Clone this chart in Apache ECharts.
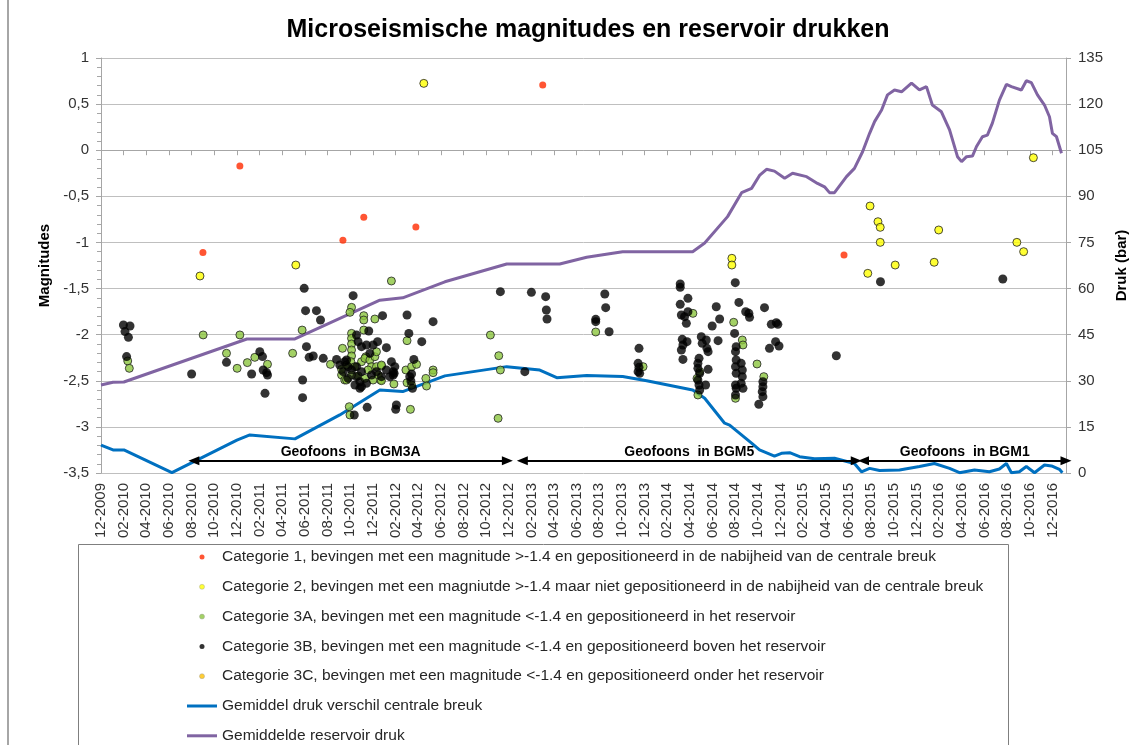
<!DOCTYPE html>
<html>
<head>
<meta charset="utf-8">
<script src="https://cdn.jsdelivr.net/npm/echarts@6/dist/echarts.min.js"></script>
<style>
  html, body { margin: 0; padding: 0; background: #fff; }
  #chart { width: 1132px; height: 745px; }
</style>
</head>
<body>
<div id="chart"></div>
<script>
// x = index of the two-month tick after 12-2009 (0 = 12-2009, 1 = 02-2010, ...)
// magnitudes on the left axis, pressure (bar) on the right axis
const monthLabels = [
  '12-2009', '02-2010', '04-2010', '06-2010', '08-2010', '10-2010',
  '12-2010', '02-2011', '04-2011', '06-2011', '08-2011', '10-2011',
  '12-2011', '02-2012', '04-2012', '06-2012', '08-2012', '10-2012',
  '12-2012', '02-2013', '04-2013', '06-2013', '08-2013', '10-2013',
  '12-2013', '02-2014', '04-2014', '06-2014', '08-2014', '10-2014',
  '12-2014', '02-2015', '04-2015', '06-2015', '08-2015', '10-2015',
  '12-2015', '02-2016', '04-2016', '06-2016', '08-2016', '10-2016',
  '12-2016'
];

const names = [
  'Categorie 1, bevingen met een magnitude >-1.4 en gepositioneerd in de nabijheid van de centrale breuk',
  'Categorie 2, bevingen met een magniutde >-1.4 maar niet gepositioneerd in de nabijheid van de centrale breuk',
  'Categorie 3A, bevingen met een magnitude <-1.4 en gepositioneerd in het reservoir',
  'Categorie 3B, bevingen met een magnitude <-1.4 en gepositioneerd boven het reservoir',
  'Categorie 3C, bevingen met een magnitude <-1.4 en gepositioneerd onder het reservoir',
  'Gemiddel druk verschil centrale breuk',
  'Gemiddelde reservoir druk'
];

const cat1 = [[4.50,-1.11],[6.13,-0.171],[10.68,-0.977],[11.60,-0.728],[13.90,-0.833],[19.50,0.707],[32.80,-1.136]];

const cat2 = [[4.37,-1.364],[8.60,-1.245],[14.25,0.725],[27.85,-1.172],[27.85,-1.245],[33.95,-0.605],[34.30,-0.775],
  [34.40,-0.836],[34.40,-0.999],[33.85,-1.335],[35.06,-1.245],[36.78,-1.215],[36.98,-0.865],[40.43,-0.999],
  [40.73,-1.10],[41.16,-0.081]];

const cat3A = [[1.18,-2.285],[1.25,-2.365],[4.51,-2.003],[6.13,-2.003],[5.54,-2.202],[6.01,-2.365],[6.46,-2.303],
  [6.79,-2.246],[7.35,-2.321],[8.46,-2.202],
  [12.82,-1.418],[8.88,-1.950],[11.06,-1.704],[10.99,-1.758],[11.60,-1.794],[11.60,-1.841],[12.09,-1.830],
  [11.60,-1.950],[11.06,-1.986],[11.06,-2.040],[11.06,-2.101],[11.06,-2.166],[11.06,-2.231],[10.66,-2.148],
  [10.13,-2.322],[10.62,-2.437],[10.76,-2.492],[13.51,-2.065],[13.46,-2.383],[13.71,-2.347],[13.93,-2.322],
  [14.66,-2.383],[14.66,-2.412],[14.34,-2.474],[14.37,-2.557],[13.51,-2.521],[12.93,-2.535],[13.66,-2.810],
  [10.96,-2.781],[10.99,-2.871],[12.34,-2.492],[11.69,-2.239],
  [10.62,-2.376],[10.84,-2.329],[11.03,-2.293],[11.21,-2.347],[11.50,-2.293],[11.65,-2.257],[11.87,-2.275],
  [12.09,-2.239],[11.94,-2.347],[11.79,-2.383],[12.16,-2.347],[12.38,-2.340],[11.35,-2.448],[11.65,-2.474],
  [12.01,-2.492],[12.24,-2.437],[11.06,-2.437],[10.84,-2.492],[12.16,-2.185],
  [13.71,-2.546],[12.38,-2.329],[12.38,-2.499],
  [17.19,-2.004],[17.56,-2.228],[17.63,-2.383],[17.53,-2.907],
  [21.84,-1.971],[26.13,-1.769],[26.43,-2.401],[26.31,-2.474],[26.35,-2.654],[23.93,-2.347],[27.93,-1.866],
  [28.31,-2.058],[28.34,-2.112],[28.01,-2.690],[28.96,-2.318],[29.26,-2.455]];

const cat3B = [[0.99,-1.895],[1.28,-1.906],[1.06,-1.967],[1.21,-2.029],[1.13,-2.238],[4.00,-2.426],[5.54,-2.300],
  [6.65,-2.426],[7.01,-2.184],[7.13,-2.238],[7.16,-2.383],[7.31,-2.412],[7.35,-2.437],[7.24,-2.636],
  [8.97,-1.498],[11.13,-1.577],[9.03,-1.740],[9.51,-1.740],[9.69,-1.841],[12.43,-1.794],[13.51,-1.787],
  [14.66,-1.859],[11.28,-2.004],[11.82,-1.960],[12.21,-2.076],[12.60,-2.141],[13.59,-1.986],[14.16,-2.076],
  [9.07,-2.130],[9.19,-2.246],[9.37,-2.231],[9.81,-2.257],[8.90,-2.492],[8.90,-2.683],[12.82,-2.293],
  [12.97,-2.347],[12.90,-2.437],[13.81,-2.268],[13.71,-2.427],[13.04,-2.763],[13.01,-2.810],[11.75,-2.788],
  [11.18,-2.871],[11.43,-2.582],
  [10.40,-2.268],[10.76,-2.293],[10.54,-2.329],[10.91,-2.347],[10.69,-2.401],[11.06,-2.383],[11.28,-2.347],
  [11.50,-2.401],[11.28,-2.455],[11.43,-2.510],[11.72,-2.528],[11.50,-2.564],[11.21,-2.546],[10.91,-2.474],
  [11.94,-2.437],[12.16,-2.401],[12.38,-2.455],[12.75,-2.455],[12.90,-2.401],[12.60,-2.383],[11.87,-2.203],
  [11.50,-2.130],[11.35,-2.076],[11.72,-2.112],[12.01,-2.112],[10.84,-2.275],
  [13.63,-2.455],[13.68,-2.502],[13.75,-2.582],[12.94,-2.419],
  [17.63,-1.534],[19.00,-1.541],[19.63,-1.588],[19.66,-1.733],[19.69,-1.830],[18.71,-2.401],
  [22.24,-1.559],[22.28,-1.707],[21.84,-1.834],[21.84,-1.859],[22.43,-1.968],[23.75,-2.148],[23.71,-2.311],
  [23.75,-2.354],[23.71,-2.401],[23.78,-2.419],[25.57,-1.451],[25.57,-1.487],[25.91,-1.606],[25.57,-1.671],
  [25.62,-1.787],[25.76,-1.805],[25.84,-1.877],[25.91,-1.751],[25.66,-2.051],[25.69,-2.112],[25.62,-2.166],
  [25.69,-2.268],[25.87,-2.076],[26.50,-2.022],[26.54,-2.094],[26.72,-2.058],[26.75,-2.148],[26.80,-2.184],
  [26.40,-2.257],[26.35,-2.311],[26.35,-2.365],[26.43,-2.419],[26.35,-2.492],[26.40,-2.546],[26.43,-2.600],
  [26.80,-2.376],[26.69,-2.546],[27.16,-1.697],[27.31,-1.830],[26.98,-1.906],[27.24,-2.065],[28.00,-1.436],
  [28.16,-1.650],[27.97,-1.986],[28.04,-2.130],[28.01,-2.184],[28.04,-2.275],[28.01,-2.347],[28.04,-2.419],
  [28.01,-2.546],[28.04,-2.582],[28.01,-2.654],[28.26,-2.311],[28.31,-2.383],[28.31,-2.455],[28.26,-2.528],
  [28.34,-2.582],[28.46,-1.751],[28.60,-1.769],[28.63,-1.812],[29.29,-1.707],[29.51,-2.148],[29.59,-1.888],
  [29.81,-1.870],[29.88,-1.888],[29.78,-2.076],[29.93,-2.123],[29.22,-2.510],[29.22,-2.564],[29.19,-2.618],
  [29.22,-2.672],[29.04,-2.755],
  [32.46,-2.228],[34.41,-1.426],[39.81,-1.396]];

const cat3C = [];

// pressure lines, bar
const drukVerschil = [[0,9.1],[0.53,7.5],[1.01,7.5],[3.13,0.1],[6.0,10.7],[6.57,12.4],[8.56,11.1],[10.54,18.9],
  [12.31,27.0],[13.32,26.5],[15.18,31.6],[17.91,34.6],[19.37,33.5],[20.12,31.0],[21.44,31.7],[23.03,31.4],
  [24.09,30.0],[26.12,27.0],[26.65,24.3],[27.53,16.2],[27.75,15.6],[28.72,9.7],[29.07,7.5],[29.73,5.5],
  [30.04,6.4],[30.40,6.6],[30.84,5.3],[31.50,4.6],[32.38,4.8],[33.26,3.1],[33.57,0.4],[33.93,1.5],[34.37,0.8],
  [35.25,1.0],[36.13,2.1],[36.79,3.1],[37.46,1.5],[37.90,0.1],[38.56,1.0],[39.22,0.4],[39.66,1.3],[39.97,3.1],
  [40.19,0.1],[40.54,0.4],[40.85,2.1],[41.21,0.1],[41.65,2.6],[41.96,2.3],[42.31,1.2],[42.44,0.1]];

const reservoirDruk = [[0,28.6],[0.53,29.5],[1.01,29.6],[6.44,43.6],[8.56,43.6],[12.31,56.2],[13.32,57.0],
  [15.18,62.2],[17.91,68.0],[20.25,68.0],[21.44,70.2],[22.59,71.5],[23.03,72.0],[26.12,72.0],[26.65,74.8],
  [27.66,83.4],[28.28,91.2],[28.72,92.6],[29.07,96.8],[29.38,98.8],[29.73,98.2],[30.18,95.9],[30.53,97.5],
  [31.15,96.4],[31.63,94.2],[31.94,93.1],[32.16,91.2],[32.38,91.2],[32.91,96.4],[33.26,99.1],[33.62,104.5],
  [33.93,110.5],[34.15,114.3],[34.46,118.1],[34.72,123.0],[35.03,124.6],[35.34,124.0],[35.78,126.8],
  [36.13,124.6],[36.44,125.7],[36.70,119.7],[37.10,117.5],[37.46,111.6],[37.81,102.9],[37.99,101.3],
  [38.21,102.9],[38.47,103.1],[38.65,106.2],[38.91,109.4],[39.13,109.9],[39.35,113.8],[39.66,121.3],
  [39.97,126.4],[40.19,125.7],[40.63,124.6],[40.85,127.6],[41.07,127.0],[41.34,123.0],[41.65,119.7],
  [41.87,115.9],[42.00,110.5],[42.18,109.4],[42.40,104.0]];

// geophone periods (same x units) drawn as double arrows at one magnitude level
const geofoonPeriods = [
  { label: 'Geofoons  in BGM3A', start: 4.10, end: 17.94 },
  { label: 'Geofoons  in BGM5', start: 18.60, end: 33.34 },
  { label: 'Geofoons  in BGM1', start: 33.66, end: 42.60 }
];
const arrowLevel = -3.367;

const FONT = '"Liberation Sans", Arial, sans-serif';
const gridGray = '#bfbfbf';
const axisGray = '#a6a6a6';
const lineIcon = 'path://M0,0H30V3H0Z';

const chart = echarts.init(document.getElementById('chart'), null, { renderer: 'canvas' });

function scatter(name, data, style, size) {
  return { name, type: 'scatter', data, symbolSize: size, itemStyle: style, z: 3 };
}

chart.setOption({
  animation: false,
  backgroundColor: '#fff',
  textStyle: { fontFamily: FONT },
  title: {
    text: 'Microseismische magnitudes en reservoir drukken',
    left: 583, top: 13, textAlign: 'center',
    textStyle: { fontSize: 25, fontWeight: 'bold', color: '#000', fontFamily: FONT }
  },
  grid: { left: 101, right: 66, top: 58, bottom: 272, containLabel: false, outerBoundsMode: 'none' },
  xAxis: {
    type: 'value', min: 0, max: 42.6, interval: 1,
    axisLine: { show: true, lineStyle: { color: axisGray } },
    axisTick: { show: true, length: 5, lineStyle: { color: axisGray } },
    splitLine: { show: false },
    axisLabel: {
      rotate: 90, margin: 10, fontSize: 15, color: '#333', showMaxLabel: false, interval: 0,
      hideOverlap: false,
      formatter: v => monthLabels[v] || ''
    }
  },
  yAxis: [{
    type: 'value', min: -3.5, max: 1, interval: 0.5, position: 'left',
    name: 'Magnitudes', nameLocation: 'middle', nameRotate: 90, nameGap: 42,
    nameTextStyle: { fontSize: 15, fontWeight: 'bold', color: '#000' },
    axisLine: { show: true, lineStyle: { color: axisGray } },
    axisTick: { show: true, length: 5, lineStyle: { color: axisGray } },
    minorTick: { show: true, splitNumber: 5, length: 4, lineStyle: { color: axisGray } },
    splitLine: { show: true, lineStyle: { color: gridGray } },
    axisLabel: { margin: 12, fontSize: 15, color: '#333', formatter: v => String(v).replace('.', ',') }
  }, {
    type: 'value', min: 0, max: 135, interval: 15, position: 'right',
    name: 'Druk (bar)', nameLocation: 'middle', nameRotate: 90, nameGap: 35,
    nameTextStyle: { fontSize: 15, fontWeight: 'bold', color: '#000' },
    axisLine: { show: true, lineStyle: { color: axisGray } },
    axisTick: { show: true, length: 5, lineStyle: { color: axisGray } },
    splitLine: { show: false },
    axisLabel: { margin: 12, fontSize: 15, color: '#333' }
  }],
  legend: {
    orient: 'vertical', left: 187, top: 549, padding: 0,
    itemWidth: 30, itemHeight: 5, itemGap: 13.8,
    textStyle: { fontSize: 15.5, color: '#262626', lineHeight: 16, fontFamily: FONT },
    data: [
      { name: names[0], icon: 'circle', itemStyle: { borderWidth: 0 } },
      { name: names[1], icon: 'circle', itemStyle: { borderColor: '#999', borderWidth: 0.5 } },
      { name: names[2], icon: 'circle', itemStyle: { borderColor: '#999', borderWidth: 0.5 } },
      { name: names[3], icon: 'circle', itemStyle: { borderWidth: 0 } },
      { name: names[4], icon: 'circle', itemStyle: { borderColor: '#999', borderWidth: 0.5 } },
      { name: names[5], icon: lineIcon },
      { name: names[6], icon: lineIcon }
    ]
  },
  graphic: [
    { type: 'line', shape: { x1: 8, y1: 0, x2: 8, y2: 745 }, style: { stroke: '#a6a6a6', lineWidth: 2 }, silent: true },
    { type: 'rect', left: 76, top: 542, shape: { width: 930, height: 220 },
      style: { fill: 'none', stroke: '#7f7f7f', lineWidth: 1 }, silent: true, z: -1 }
  ],
  series: [
    { name: names[5], type: 'line', yAxisIndex: 1, data: drukVerschil, symbol: 'none',
      lineStyle: { color: '#0070c0', width: 3 }, itemStyle: { color: '#0070c0' }, z: 2 },
    { name: names[6], type: 'line', yAxisIndex: 1, data: reservoirDruk, symbol: 'none',
      lineStyle: { color: '#8064a2', width: 3 }, itemStyle: { color: '#8064a2' }, z: 2 },
    scatter(names[0], cat1, { color: '#ff2a00' }, 7),
    scatter(names[1], cat2, { color: '#ffff00', borderColor: '#222', borderWidth: 1 }, 8),
    scatter(names[2], cat3A, { color: '#8cc63f', borderColor: '#222', borderWidth: 1 }, 8),
    scatter(names[3], cat3B, { color: '#000' }, 9),
    scatter(names[4], cat3C, { color: '#ffc000', borderColor: '#222', borderWidth: 1 }, 8),
    {
      type: 'line', data: [], yAxisIndex: 0, silent: true,
      markLine: {
        silent: true, animation: false,
        symbol: ['triangle', 'triangle'], symbolSize: [9, 11],
        lineStyle: { color: '#000', width: 2, type: 'solid' },
        label: { show: true, position: 'insideMiddleTop', distance: 2, formatter: '{b}',
          fontSize: 14, fontWeight: 'bold', color: '#000', fontFamily: FONT },
        emphasis: { disabled: true },
        data: geofoonPeriods.map(g => [
          { coord: [g.start, arrowLevel], name: g.label },
          { coord: [g.end, arrowLevel] }
        ])
      }
    }
  ]
});
</script>
</body>
</html>
